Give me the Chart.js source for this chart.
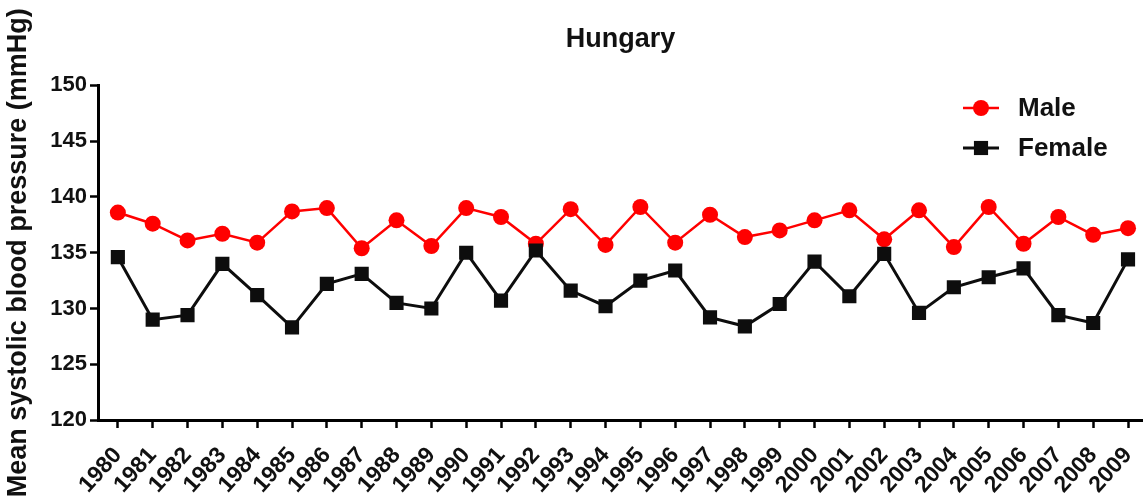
<!DOCTYPE html>
<html lang="en">
<head>
    <meta charset="UTF-8">
    <title>Hungary - Mean systolic blood pressure</title>
    <script src="https://cdn.jsdelivr.net/npm/chart.js"></script>
    <style>
        * {
            margin: 0;
            padding: 0;
            box-sizing: border-box;
        }
        body {
            background: #fff;
            width: 1143px;
            height: 504px;
            overflow: hidden;
        }
        canvas {
            display: block;
        }
    </style>
</head>
<body>
    <canvas id="myChart" width="1143" height="504"></canvas>
    <script>
        // values (mmHg)
        const yearLabels = ['1980', '1981', '1982', '1983', '1984', '1985', '1986', '1987', '1988', '1989',
                            '1990', '1991', '1992', '1993', '1994', '1995', '1996', '1997', '1998', '1999',
                            '2000', '2001', '2002', '2003', '2004', '2005', '2006', '2007', '2008', '2009'];
        const maleBP = [138.6, 137.6, 136.1, 136.7, 135.9, 138.7, 139.0, 135.4, 137.9, 135.6,
                        139.0, 138.2, 135.8, 138.9, 135.7, 139.1, 135.9, 138.4, 136.4, 137.0,
                        137.9, 138.8, 136.2, 138.8, 135.5, 139.1, 135.8, 138.2, 136.6, 137.2];
        const femaleBP = [134.6, 129.0, 129.4, 134.0, 131.2, 128.3, 132.2, 133.1, 130.5, 130.0,
                          135.0, 130.7, 135.2, 131.6, 130.2, 132.5, 133.4, 129.2, 128.4, 130.4,
                          134.2, 131.1, 134.9, 129.6, 131.9, 132.8, 133.6, 129.4, 128.7, 134.4];
        const yTicks = [120, 125, 130, 135, 140, 145, 150];

        const toPoints = arr => arr.map((v, i) => ({ x: Number(yearLabels[i]), y: v }));

        // legend sits inside the plot, top right, like the original figure
        const insideLegend = {
            id: 'insideLegend',
            afterDraw(chart) {
                const ctx = chart.ctx;
                ctx.save();
                chart.data.datasets.forEach((ds, row) => {
                    const y = 108 + row * 40;
                    const x0 = 963, x1 = 999, mx = 981;
                    ctx.strokeStyle = ds.borderColor;
                    ctx.lineWidth = ds.borderWidth;
                    ctx.beginPath();
                    ctx.moveTo(x0, y);
                    ctx.lineTo(x1, y);
                    ctx.stroke();
                    ctx.fillStyle = ds.pointBackgroundColor;
                    ctx.beginPath();
                    if (ds.pointStyle === 'circle') {
                        ctx.arc(mx, y, ds.pointRadius, 0, Math.PI * 2);
                    } else {
                        const s = ds.pointRadius * Math.SQRT1_2;
                        ctx.rect(mx - s, y - s, 2 * s, 2 * s);
                    }
                    ctx.fill();
                    ctx.fillStyle = '#111';
                    ctx.font = 'bold 26px "Liberation Sans", Arial, sans-serif';
                    ctx.textBaseline = 'middle';
                    ctx.textAlign = 'left';
                    ctx.fillText(ds.label, 1018, y + 1);
                });
                ctx.restore();
            }
        };

        const ctx = document.getElementById('myChart').getContext('2d');
        new Chart(ctx, {
            type: 'line',
            data: {
                datasets: [
                    {
                        label: 'Male',
                        data: toPoints(maleBP),
                        borderColor: '#ff0000',
                        backgroundColor: '#ff0000',
                        pointBackgroundColor: '#ff0000',
                        pointBorderWidth: 0,
                        pointStyle: 'circle',
                        pointRadius: 8,
                        borderWidth: 2.5,
                        tension: 0,
                        order: 1
                    },
                    {
                        label: 'Female',
                        data: toPoints(femaleBP),
                        borderColor: '#0d0d0d',
                        backgroundColor: '#0d0d0d',
                        pointBackgroundColor: '#0d0d0d',
                        pointBorderWidth: 0,
                        pointStyle: 'rect',
                        pointRadius: 10,
                        borderWidth: 3,
                        tension: 0,
                        order: 0
                    }
                ]
            },
            options: {
                responsive: false,
                animation: false,
                devicePixelRatio: 1,
                layout: {
                    autoPadding: false,
                    padding: { left: 0, right: 0, top: 0, bottom: 0 }
                },
                scales: {
                    x: {
                        type: 'linear',
                        min: 1979.43,
                        max: 2009.43,
                        afterBuildTicks: scale => {
                            scale.ticks = yearLabels.map(l => ({ value: Number(l) }));
                        },
                        afterFit: scale => {
                            scale.height = 84;
                            scale.paddingLeft = 0;
                            scale.paddingRight = 0;
                        },
                        border: { display: true, color: '#000', width: 3 },
                        grid: {
                            display: true,
                            drawOnChartArea: false,
                            drawTicks: true,
                            tickLength: 8,
                            tickWidth: 2.5,
                            tickColor: '#000'
                        },
                        ticks: {
                            autoSkip: false,
                            minRotation: 48,
                            maxRotation: 48,
                            padding: 14,
                            color: '#111',
                            font: { family: '"Liberation Sans", Arial, sans-serif', size: 23, weight: 'bold' },
                            callback: v => String(v)
                        }
                    },
                    y: {
                        min: 120,
                        max: 150,
                        afterBuildTicks: scale => {
                            scale.ticks = yTicks.map(v => ({ value: v }));
                        },
                        afterFit: scale => {
                            scale.width = 98;
                        },
                        border: { display: true, color: '#000', width: 3 },
                        grid: {
                            display: true,
                            drawOnChartArea: false,
                            drawTicks: true,
                            tickLength: 8,
                            tickWidth: 2.5,
                            tickColor: '#000'
                        },
                        ticks: {
                            padding: 3,
                            color: '#111',
                            font: { family: '"Liberation Sans", Arial, sans-serif', size: 22, weight: 'bold' }
                        },
                        title: {
                            display: true,
                            text: 'Mean systolic blood pressure (mmHg)',
                            color: '#111',
                            padding: { top: 2, bottom: 0 },
                            font: { family: '"Liberation Sans", Arial, sans-serif', size: 27, weight: 'bold' }
                        }
                    }
                },
                plugins: {
                    legend: { display: false },
                    tooltip: { enabled: false },
                    title: {
                        display: true,
                        text: 'Hungary',
                        fullSize: false,
                        color: '#111',
                        padding: { top: 23, bottom: 30 },
                        font: { family: '"Liberation Sans", Arial, sans-serif', size: 27, weight: 'bold' }
                    }
                }
            },
            plugins: [insideLegend]
        });
    </script>
</body>
</html>
